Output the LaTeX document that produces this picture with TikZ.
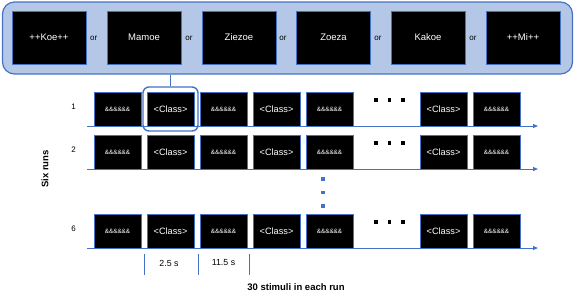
\documentclass[tikz,border=0pt]{standalone}
\usepackage{fontspec}
\setmainfont{Liberation Sans}
\usetikzlibrary{arrows.meta}
\definecolor{pblue}{HTML}{4472C4}
\definecolor{pfill}{HTML}{B4C7E7}
\begin{document}
\begin{tikzpicture}[x=1pt,y=-1pt,
  panel/.style={draw=pblue, line width=1.2pt, fill=pfill, rounded corners=12pt, minimum width=570pt, minimum height=72pt, inner sep=0},
  topbox/.style={draw=pblue, line width=0.8pt, fill=black, text=white, minimum width=74pt, minimum height=53pt, inner sep=0, font=\fontsize{9.5}{11}\selectfont},
  orlab/.style={font=\fontsize{8}{9}\selectfont, inner sep=0},
  stim/.style={draw=pblue, line width=0.6pt, fill=black, text=white, minimum width=47pt, minimum height=34pt, inner sep=0},
  cls/.style={stim, font=\fontsize{9.2}{10}\selectfont},
  amp/.style={stim, font=\fontsize{6.3}{7}\selectfont},
  dotsq/.style={fill=black, minimum size=3.6pt, inner sep=0},
  bdot/.style={fill=pblue, minimum size=3.4pt, inner sep=0},
  runline/.style={draw=pblue, line width=1pt, -{Triangle[length=5pt,width=4pt]}},
  hl/.style={draw=pblue, line width=1.4pt, rounded corners=6pt, minimum width=55pt, minimum height=44pt, inner sep=0},
  rowlab/.style={font=\fontsize{8}{9}\selectfont, inner sep=0},
  tick/.style={draw=pblue, line width=0.8pt},
  timelab/.style={font=\fontsize{8.8}{10}\selectfont, inner sep=0},
  bold/.style={font=\bfseries\fontsize{9.5}{11}\selectfont, inner sep=0}
]
\useasboundingbox (0,0) rectangle (575,293);

% top panel
\node[panel] (panel) at (287.5,38) {};
\node[topbox] (w1) at (49,37.5) {++Koe++};
\node[topbox] (w2) at (144,37.5) {Mamoe};
\node[topbox] (w3) at (239,37.5) {Ziezoe};
\node[topbox] (w4) at (333.5,37.5) {Zoeza};
\node[topbox] (w5) at (428,37.5) {Kakoe};
\node[topbox] (w6) at (523,37.5) {++Mi++};
\foreach \i/\x in {1/93.7,2/189,3/283,4/378,5/473}{
  \node[orlab] (or\i) at (\x,38) {or};
}

% rows
\foreach \r/\y in {1/109,2/152,6/231}{
  \node[amp] (r\r-1) at (117.5,\y) {\&\&\&\&\&\&};
  \node[cls] (r\r-2) at (170.5,\y) {<Class>};
  \node[amp] (r\r-3) at (223.5,\y) {\&\&\&\&\&\&};
  \node[cls] (r\r-4) at (276.5,\y) {<Class>};
  \node[amp] (r\r-5) at (329.5,\y) {\&\&\&\&\&\&};
  \node[cls] (r\r-6) at (443.5,\y) {<Class>};
  \node[amp] (r\r-7) at (496.5,\y) {\&\&\&\&\&\&};
  \node[dotsq] (d\r-1) at (376,\y-9) {};
  \node[dotsq] (d\r-2) at (389.5,\y-9) {};
  \node[dotsq] (d\r-3) at (403,\y-9) {};
  \coordinate (s\r) at (87,\y+17);
  \coordinate (e\r) at (538,\y+17);
  \draw[runline] (s\r) -- (e\r);
  \node[rowlab] (lab\r) at (73.5,\y-2) {\r};
}

% highlight and connector
\node[hl] (hl) at (170.5,109) {};
\draw[draw=pblue, line width=1.2pt] (panel.south -| hl.north) -- (hl.north);

% vertical dots
\node[bdot] (v1) at (323,179) {};
\node[bdot] (v2) at (323,192.5) {};
\node[bdot] (v3) at (323,206) {};

% Six runs
\node[bold, rotate=90] (six) at (45,169) {Six runs};

% timing ticks
\coordinate (t1a) at (144,254); \coordinate (t1b) at (144,275);
\coordinate (t2a) at (198,254); \coordinate (t2b) at (198,275);
\coordinate (t3a) at (249,254); \coordinate (t3b) at (249,275);
\draw[tick] (t1a) -- (t1b);
\draw[tick] (t2a) -- (t2b);
\draw[tick] (t3a) -- (t3b);
\node[timelab] (tl1) at (169,263) {2.5 s};
\node[timelab] (tl2) at (223.5,263) {11.5 s};

\node[bold] (stim) at (296,287.5) {30 stimuli in each run};
\end{tikzpicture}
\end{document}
